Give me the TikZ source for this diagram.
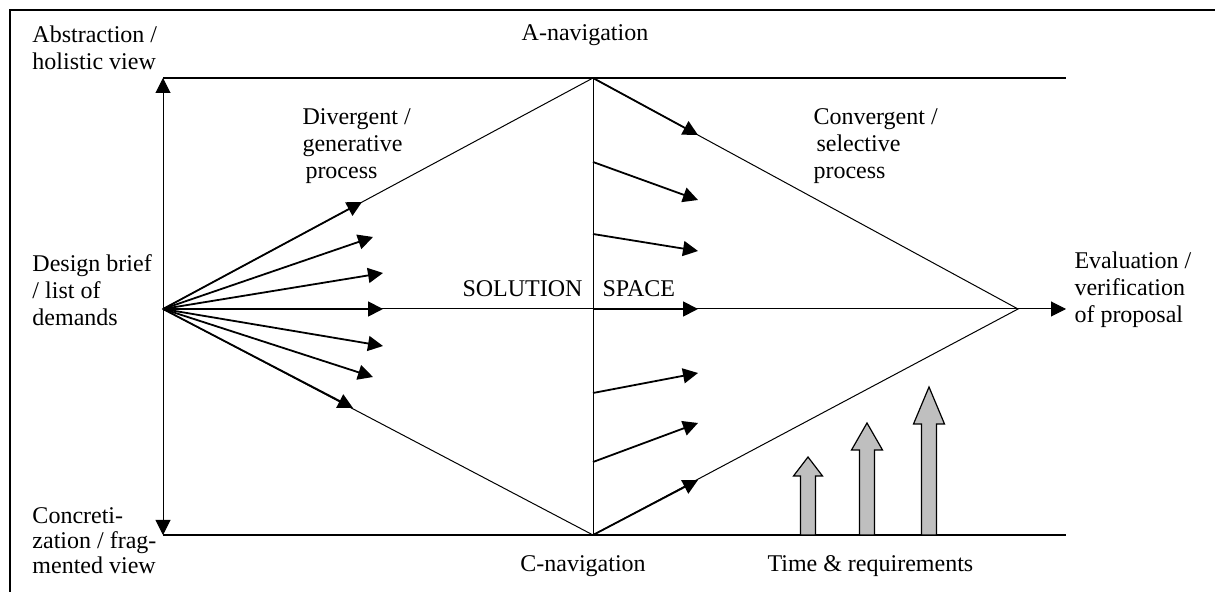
\documentclass[tikz,border=0pt]{standalone}
\usepackage{fontspec}
\setmainfont{Liberation Serif}
\usetikzlibrary{arrows.meta}

\begin{document}
\begin{tikzpicture}[x=0.5pt, y=-0.5pt, line width=0.5pt,
	arr/.style = {-{Triangle[length=7.5pt, width=7.5pt]}},
	fan/.style = {arr, line width=0.9pt},
	txt/.style = {align=left, anchor=west, inner sep=0pt, font=\fontsize{12}{13.5}\selectfont},
	bar/.style = {draw, fill=gray!50, line width=0.6pt}]
	\useasboundingbox (0,0) rectangle (1215,592);
	\draw[line width=1pt] (10,592) -- (10,10) -- (1215,10);
	
	% solution space
	\coordinate (L) at (163,309);
	\coordinate (T) at (593,78);
	\coordinate (B) at (593,535);
	\coordinate (R) at (1018,309);
	\coordinate (TL) at (163,78);
	\coordinate (BL) at (163,535);
	\coordinate (TR) at (1066,78);
	\coordinate (BR) at (1066,535);
	\coordinate (E) at (1066,309);
	
	\draw[line width=0.6pt] (TL) -- (TR);
	\draw[line width=0.6pt] (BL) -- (BR);
	\draw[{Triangle[length=7.5pt, width=7.5pt]}-{Triangle[length=7.5pt, width=7.5pt]}] (TL) -- (BL);
	\draw (L) -- (T) -- (R) -- (B) -- cycle;
	\draw (L) -- (R);
	\draw (T) -- (B);
	\draw[arr] (R) -- (E);
	
	% divergent fan
	\foreach \p [count=\i] in {{362,202}, {373,237}, {383,273}, {383,309}, {383,346}, {373,377}, {353,408}} {
		\coordinate (d\i) at (\p);
		\draw[fan] (L) -- (d\i);
	}
	
	% navigation arrows
	\foreach \s/\e [count=\i] in {78/135, 162/200, 234/251, 309/309, 393/373, 462/423, 535/480} {
		\coordinate (s\i) at (593,\s);
		\coordinate (c\i) at (698,\e);
		\draw[fan] (s\i) -- (c\i);
	}
	
	% time & requirements
	\foreach \x/\t/\h/\w in {808/457/19/14.5, 867/423/27/15.5, 929/387/37/15.5}
		\draw[bar] ({\x-7.5},535) -- ({\x-7.5},{\t+\h}) -- ({\x-\w},{\t+\h}) -- (\x,\t)
			-- ({\x+\w},{\t+\h}) -- ({\x+7.5},{\t+\h}) -- ({\x+7.5},535) -- cycle;
	
	\node[txt] (abs) at (32,48) {Abstraction /\\holistic view};
	\node[txt] (brief) at (32,290) {Design brief\\/ list of\\demands};
	\node[txt, font=\fontsize{12}{12.5}\selectfont] (conc) at (32,541) {Concreti-\\zation / frag-\\mented view};
	\node[txt] (div) at (302,146) {Divergent /\\generative\\\hspace{1.5pt}process};
	\node[txt] (conv) at (813,146) {Convergent /\\\hspace{1.5pt}selective\\process};
	\node[txt] (eval) at (1074,290) {Evaluation /\\verification\\of proposal};
	\node[txt, anchor=center] (anav) at (585,35) {A-navigation};
	\node[txt, anchor=center] (cnav) at (583,566) {C-navigation};
	\node[txt] (time) at (767,566) {Time \& requirements};
	\node[txt, anchor=east] (sol) at (583,289) {SOLUTION};
	\node[txt] (space) at (602,289) {SPACE};
\end{tikzpicture}
\end{document}
